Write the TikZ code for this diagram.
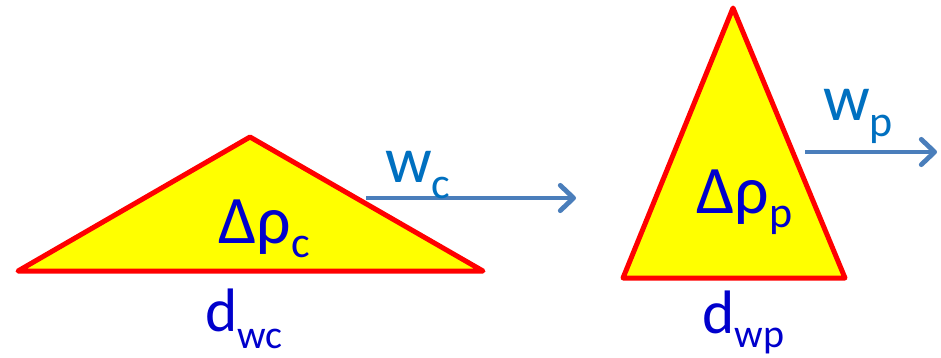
\documentclass[tikz,border=0pt]{standalone}
\usepackage{fontspec}
\setmainfont{Carlito}
\usetikzlibrary{arrows.meta}
\definecolor{tri}{HTML}{FF0000}
\definecolor{fillY}{HTML}{FFFF00}
\definecolor{rho}{HTML}{0000CC}
\definecolor{wtxt}{HTML}{0070C0}
\definecolor{arr}{HTML}{4A7EBB}
\tikzset{
  tribox/.style={draw=tri, fill=fillY, line width=3.75pt, line join=round, line cap=round},
  flow/.style={draw=arr, line width=3.6pt, -{Straight Barb[length=10pt,width=19pt,line cap=round,line join=round]}},
  lbl/.style={inner sep=0pt, anchor=base west},
}
\begin{document}
\begin{tikzpicture}[x=0.75pt,y=-0.75pt]
\useasboundingbox (0,0) rectangle (941,357);
% triangles
\draw[tribox] (18,271) -- (250,137) -- (483,271) -- cycle;
\draw[tribox] (623,278) -- (733,8) -- (845,278) -- cycle;
% arrows
\coordinate (wcS) at (366,198);
\coordinate (wcE) at (576,198);
\coordinate (wpS) at (805,152);
\coordinate (wpE) at (937,152);
\draw[flow] (wcS) -- (wcE);
\draw[flow] (wpS) -- (wpE);
% labels
\node[lbl, text=rho] (rc) at (218,243) {{\fontsize{51}{51}\selectfont Δρ}\raisebox{-11pt}{\fontsize{33}{33}\selectfont c}};
\node[lbl, text=rho] (rp) at (696,213) {{\fontsize{51}{51}\selectfont Δρ}\raisebox{-11pt}{\fontsize{33}{33}\selectfont p}};
\node[lbl, text=rho] (dc) at (205,331) {{\fontsize{46}{46}\selectfont d}\raisebox{-13pt}{\fontsize{30}{30}\selectfont wc}};
\node[lbl, text=rho] (dp) at (702,333) {{\fontsize{46}{46}\selectfont d}\raisebox{-10.5pt}{\fontsize{30}{30}\selectfont wp}};
\node[lbl, text=wtxt] (wc) at (385,182) {{\fontsize{49}{49}\selectfont w}\raisebox{-12pt}{\fontsize{33}{33}\selectfont c}};
\node[lbl, text=wtxt] (wp) at (823,120) {{\fontsize{49}{49}\selectfont w}\raisebox{-12pt}{\fontsize{33}{33}\selectfont p}};
\end{tikzpicture}
\end{document}
